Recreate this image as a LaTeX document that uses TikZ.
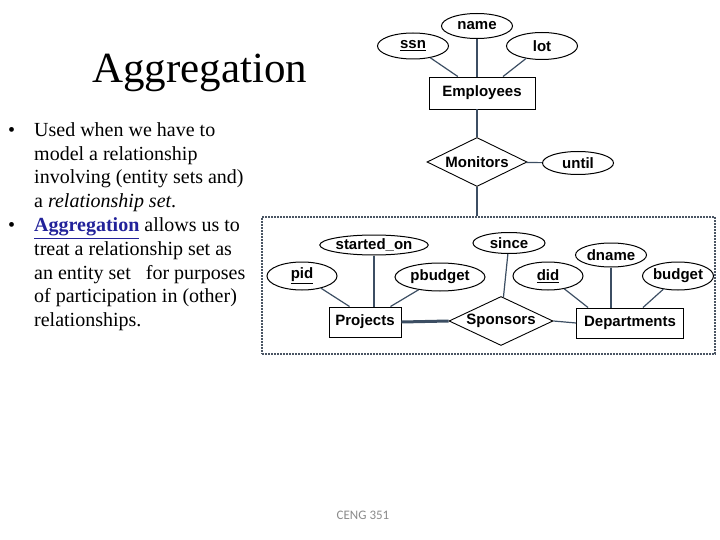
\documentclass[tikz,border=0pt]{standalone}
\usepackage{fontspec}
\setmainfont{Liberation Serif}
\newfontfamily\erfont{Liberation Sans}
\newfontfamily\footfont{Carlito}
\usetikzlibrary{positioning,shapes.geometric,calc}
\definecolor{slate}{HTML}{3C4E63}
\definecolor{aggblue}{HTML}{22229A}
\definecolor{dotgray}{HTML}{4A5563}
\definecolor{footgray}{HTML}{8A8A8A}

\begin{document}
\begin{tikzpicture}[
 x=1pt,y=-1pt,
 attr/.style={ellipse,draw,line width=1pt,inner sep=0pt,minimum width=71pt,minimum height=25pt,font=\erfont\bfseries\fontsize{15}{17}\selectfont},
 ent/.style={rectangle,draw,line width=0.9pt,inner sep=0pt,minimum height=30pt,font=\erfont\bfseries\fontsize{15}{17}\selectfont},
 rel/.style={diamond,draw,line width=0.9pt,inner sep=0pt,aspect=2,minimum width=100pt,minimum height=49pt,font=\erfont\bfseries\fontsize{15}{17}\selectfont},
 link/.style={draw=slate,line width=1.2pt},
 aggbox/.style={rectangle,draw=dotgray,line width=1.3pt,dash pattern=on 1.6pt off 1.4pt,inner sep=0pt},
 txt/.style={anchor=base west,inner sep=0pt,font=\fontsize{20}{23.5}\selectfont}
]
\useasboundingbox (0,0) rectangle (720,540);
\node[anchor=base west,inner sep=0pt,font=\fontsize{43}{50}\selectfont] (title) at (92,83) {Aggregation};
\foreach \y in {137,232}{\node[txt] (dot\y) at (8,\y) {\textbullet};}
\foreach \y/\txt [count=\i] in {137/Used when we have to,160.5/model a relationship,184/involving (entity sets and),207.5/a \textit{relationship set}.,232/{\textcolor{aggblue}{\underline{\textbf{Aggregation}}} allows us to},255.5/treat a relationship set as,279/an entity set\ \ \ for purposes,302.5/of participation in (other),326/relationships.}{\node[txt] (l\i) at (34,\y) {\txt};}
\node[aggbox,minimum width=453pt,minimum height=137pt] (agg) at (488.5,285.5) {};
\node[attr] (name) at (477,26) {name};
\node[attr,minimum height=26pt] (ssn) at (413,46) {\underline{ssn}};
\node[attr,minimum height=27pt] (lot) at (542,46) {lot};
\node[ent,minimum width=106pt,minimum height=32pt] (emp) at (482,93) {Employees};
\node[rel] (mon) at (477,162) {Monitors};
\node[attr,minimum height=23pt] (until) at (578,163) {until};
\node[attr,minimum width=92pt,minimum height=20pt] (start) at (374,245) {started\_on};
\node[attr,minimum width=70pt,minimum height=28pt] (pid) at (302,276) {\underline{pid}};
\node[attr,minimum width=90pt,minimum height=28pt] (pbud) at (440,277) {pbudget};
\node[attr,minimum width=72pt,minimum height=21pt] (since) at (509,243) {since};
\node[attr,minimum height=24pt] (dname) at (611,255) {dname};
\node[attr,minimum width=70pt,minimum height=28pt] (did) at (548,276) {\underline{did}};
\node[attr,minimum height=28pt] (budget) at (678,276) {budget};
\node[ent,minimum width=72pt] (proj) at (365,322) {Projects};
\node[rel,minimum width=104pt] (spon) at (501,321) {Sponsors};
\node[ent,minimum width=107pt] (dept) at (630,323) {Departments};
\draw[link] (name) -- (name |- emp.north);
\draw[link] (ssn) -- (emp);
\draw[link] (lot) -- (emp);
\draw[link] (mon.north) -- (mon.north |- emp.south);
\draw[link] (mon) -- (until);
\draw[link] (mon.south) -- (mon.south |- agg.north);
\draw[link] (pid) -- ([xshift=21pt]proj.north west);
\draw[link] (start) -- (start |- proj.north);
\draw[link] (pbud) -- ([xshift=-11pt]proj.north east);
\draw[link] (since) -- (spon);
\draw[link] (did) -- ([xshift=12pt]dept.north west);
\draw[link] (dname) -- (dname |- dept.north);
\draw[link] (budget) -- ([xshift=-41pt]dept.north east);
\draw[draw=slate,line width=3pt] (proj.east) -- (spon.west);
\draw[link] (spon.east) -- (dept.west);
\node[font=\footfont\fontsize{13}{15}\selectfont,text=footgray] (foot) at (363,515) {CENG 351};
\end{tikzpicture}
\end{document}
